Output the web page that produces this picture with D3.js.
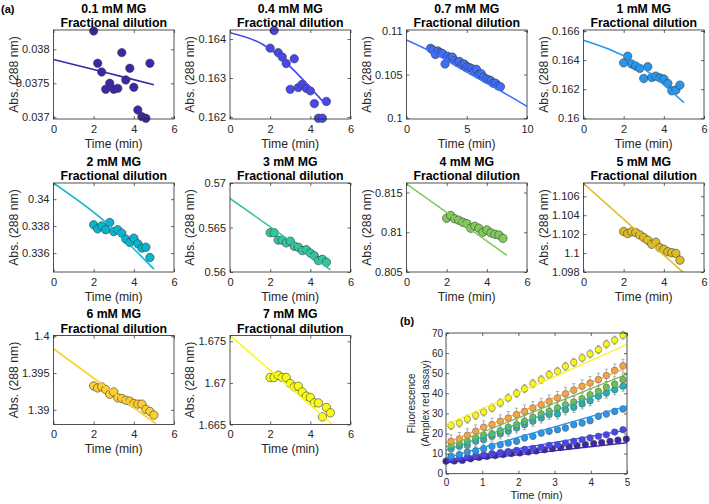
<!DOCTYPE html>
<html><head><meta charset="utf-8">
<script src="https://cdn.jsdelivr.net/npm/d3@7"></script>
<style>
html,body{margin:0;padding:0;background:#fff;}
svg{display:block;font-family:"Liberation Sans",Arial,Helvetica,sans-serif;}
</style></head><body>
<svg id="chart" width="709" height="504"></svg>
<script>
// ================= DATA =================
const concLabels = ["0.1 mM MG","0.4 mM MG","0.7 mM MG","1 mM MG","2 mM MG","3 mM MG","4 mM MG","5 mM MG","6 mM MG","7 mM MG"];
const subTitle = "Fractional dilution";
const panelColors = ["#3e26a8","#4747eb","#3e6fff","#2796eb","#08b5d0","#31c69f","#81cc59","#dcbd29","#fccf30","#f9fb15"];

const t15 = [2.0,2.2,2.4,2.6,2.8,3.0,3.2,3.4,3.6,3.8,4.0,4.2,4.4,4.6,4.8];
const t16 = [2.0,2.2,2.4,2.6,2.8,3.0,3.2,3.4,3.6,3.8,4.0,4.2,4.4,4.6,4.8,5.0];
const t30 = [2.0,2.2,2.4,2.6,2.8,3.0,3.2,3.4,3.6,3.8,4.0,4.2,4.4,4.6,4.8,5.0,5.2,5.4,5.6,5.8,6.0,6.2,6.4,6.6,6.8,7.0,7.2,7.4,7.6,7.8];

const abs01 = [0.03827,0.037794,0.037667,0.037412,0.0375,0.037412,0.037426,0.037951,0.037549,0.037721,0.037441,0.037108,0.03701,0.036985,0.037794];
const abs04 = [0.163765,0.164217,0.16365,0.163538,0.163373,0.16271,0.163493,0.162755,0.162841,0.162736,0.16267,0.162345,0.16197,0.16197,0.1624];
const abs07 = [0.1080,0.1078,0.1073,0.1077,0.1075,0.1074,0.1062,0.1071,0.1069,0.1070,0.1066,0.1064,0.1065,0.1061,0.1062,0.1059,0.1058,0.1057,0.1054,0.1056,0.1050,0.1051,0.1047,0.1045,0.1044,0.1043,0.1040,0.1040,0.1037,0.1036];
const abs1  = [0.16381,0.16427,0.16373,0.16359,0.16343,0.16274,0.16354,0.16281,0.1629,0.16278,0.16271,0.1624,0.16189,0.16194,0.16228];
const abs2  = [0.3381,0.3378,0.33802,0.33773,0.33827,0.3376,0.33773,0.33748,0.33704,0.33679,0.33711,0.33669,0.33637,0.33644,0.33567];
const abs3  = [0.56442,0.56442,0.56358,0.56358,0.56327,0.56347,0.56289,0.56278,0.5624,0.56251,0.56213,0.56182,0.56128,0.56143,0.56109];
const abs4  = [0.81177,0.81211,0.8117,0.81152,0.81127,0.8111,0.81051,0.81076,0.81051,0.81,0.8103,0.80992,0.80975,0.80966,0.80924];
const abs5  = [1.10228,1.10206,1.10225,1.10217,1.10193,1.10164,1.10136,1.10093,1.10114,1.10057,1.1004,1.10014,1.10003,1.09997,1.09925];
const abs6  = [1.39324,1.39297,1.39311,1.39275,1.39212,1.39243,1.39162,1.39154,1.39131,1.39118,1.39086,1.39077,1.39077,1.39005,1.38978,1.38928];
const abs7  = [1.67065,1.67065,1.67092,1.67065,1.67065,1.66992,1.66952,1.6696,1.66892,1.6684,1.66825,1.6676,1.6676,1.66592,1.66705,1.6664];

// model (fractional dilution) curves
const fitT01 = [0,2.5,5],         fitY01 = [0.03785,0.037665,0.03748];
const fitT04 = [0,1.6,3.2,4.8],   fitY04 = [0.16416,0.16387,0.16319,0.1623];
const fitT07 = [0,2.5,5,7.5,10],  fitY07 = [0.10896,0.1073,0.10527,0.10336,0.10134];
const fitT1  = [0,2.5,5],         fitY1  = [0.16537,0.1639,0.16107];
const fitT2  = [0,2.5,5],         fitY2  = [0.34119,0.33842,0.33481];
const fitT3  = [0,2.5,5],         fitY3  = [0.56827,0.56428,0.56025];
const fitT4  = [0,5],             fitY4  = [0.8161,0.8071];
const fitT5  = [0,5],             fitY5  = [1.10735,1.0979];
const fitT6  = [0,5.1],           fitY6  = [1.3983,1.3881];
const fitT7  = [0,5.11],          fitY7  = [1.67572,1.665];

const yLims = [[0.036975,0.038284],[0.16195,0.16423],[0.0999,0.1101],[0.15995,0.16607],[0.3346,0.3412],
               [0.56,0.57],[0.805,0.8162],[1.098,1.1074],[1.388,1.4001],[1.665,1.6757]];
const yTicksA = [[0.037,0.0375,0.038],[0.162,0.163,0.164],[0.1,0.105,0.11],[0.16,0.162,0.164,0.166],[0.336,0.338,0.34],
                 [0.56,0.565,0.57],[0.805,0.81,0.815],[1.098,1.1,1.102,1.104,1.106],[1.39,1.395,1.4],[1.665,1.67,1.675]];
const xLims = [6,6,10,6,6,6,6,6,6,6];
const xTicksA = [[0,2,4,6],[0,2,4,6],[0,5,10],[0,2,4,6],[0,2,4,6],[0,2,4,6],[0,2,4,6],[0,2,4,6],[0,2,4,6],[0,2,4,6]];

const pointT = [t15,t15,t30,t15,t15,t15,t15,t15,t16,t16];
const pointY = [abs01,abs04,abs07,abs1,abs2,abs3,abs4,abs5,abs6,abs7];
const fitTs = [fitT01,fitT04,fitT07,fitT1,fitT2,fitT3,fitT4,fitT5,fitT6,fitT7];
const fitYs = [fitY01,fitY04,fitY07,fitY1,fitY2,fitY3,fitY4,fitY5,fitY6,fitY7];

// panel (b): Amplex red fluorescence
const bTime = [0.14,0.37,0.59,0.82,1.04,1.27,1.50,1.72,1.95,2.17,2.40,2.63,2.85,3.08,3.30,3.53,3.76,3.98,4.21,4.43,4.66,4.89];
const bTimeNavy = [0.00,0.23,0.45,0.68,0.91,1.13,1.36,1.58,1.81,2.04,2.27,2.49,2.72,2.94,3.17,3.40,3.62,3.85,4.08,4.30,4.53,4.75,4.98];
const fluNavy   = [6.2,6.3,6.6,7.4,8.1,8.6,9.0,9.5,10.0,10.3,10.8,11.3,11.9,12.5,13.0,13.5,14.0,14.5,15.0,15.5,16.1,16.7,17.3];
const fluViolet = [7.0,7.5,8.2,8.8,9.3,10.0,10.5,11.0,11.6,12.1,12.6,13.1,14.1,14.4,15.3,16.1,16.9,17.8,18.6,19.4,20.7,21.9];
const fluBlue   = [8.7,9.5,10.8,11.4,12.4,13.6,14.4,15.3,16.1,17.8,18.6,20.2,21.1,21.9,22.7,24.4,25.2,26.4,28.6,29.7,31.0,32.2];
const fluTeal   = [12.4,13.6,14.1,16.1,16.9,18.6,19.8,21.1,22.7,24.4,26.1,27.7,29.4,29.7,31.8,33.0,34.7,36.3,38.5,40.1,41.8,43.5];
const fluGreen  = [13.6,14.8,16.1,17.8,19.1,19.8,21.4,23.1,24.4,26.1,28.1,29.7,31.0,32.7,34.3,35.7,37.3,39.3,41.0,43.0,44.6,46.8];
const fluOrange = [16.1,17.3,19.1,21.1,23.1,24.4,26.1,27.7,29.4,31.0,32.7,34.3,36.0,37.7,39.7,41.6,43.5,45.1,46.8,48.8,51.4,53.7];
const fluYellow = [23.9,25.2,27.2,29.0,30.7,32.7,35.2,37.7,40.0,42.3,44.8,46.8,49.3,50.9,53.4,55.4,57.6,59.6,61.7,64.5,66.4,68.9];
const fluErr    = [0.8,1.0,1.5,2.5,2.8,3.2,2.0];
const bFitT = [0,5];
const bFitNavy = [5.5,15.4], bFitViolet = [6.3,21.7], bFitBlue = [7.8,33.6], bFitTeal = [11.6,44.6],
      bFitGreen = [13.3,49.6], bFitOrange = [15.2,52.8], bFitYellow = [24.4,64.2];
const bColors = ["#3e26a8","#4747eb","#2796eb","#1bb3b8","#72c052","#f4a347","#f7f520"];
const bXTicks = [0,1,2,3,4,5];
const bYTicks = [0,10,20,30,40,50,60,70];

// ================= DRAW =================
const svg = d3.select("#chart");
const TXT = "#262626";
const colX = [53.5, 230, 406.5, 583.5], W = 120.5;
const rowY = [30, 183, 335.5], H = 89;

function styleAxis(g, fs){
  g.select(".domain").remove();
  g.selectAll(".tick line").attr("stroke", TXT).attr("stroke-width", 0.7);
  g.selectAll(".tick text").attr("fill", TXT).attr("font-size", fs).attr("font-family", "Liberation Sans, Arial, sans-serif");
}
const fmt = d => String(d);

pointY.forEach((vals, i) => {
  const col = i % 4, row = Math.floor(i / 4);
  const g = svg.append("g").attr("transform", `translate(${colX[col]},${rowY[row]})`);
  const x = d3.scaleLinear().domain([0, xLims[i]]).range([0, W]);
  const y = d3.scaleLinear().domain(yLims[i]).range([H, 0]);
  const cid = "clipA" + i;
  g.append("clipPath").attr("id", cid).append("rect").attr("width", W).attr("height", H);

  g.append("rect").attr("width", W).attr("height", H).attr("fill", "#fff");

  // points
  g.append("g").selectAll("circle").data(vals.map((v, k) => [pointT[i][k], v])).join("circle")
    .attr("cx", d => x(d[0])).attr("cy", d => y(d[1])).attr("r", 4.2)
    .attr("fill", panelColors[i]).attr("stroke", "#3a3a3a").attr("stroke-width", 0.6);

  // model line
  const line = d3.line().x(d => x(d[0])).y(d => y(d[1])).curve(d3.curveNatural);
  g.append("path").datum(fitTs[i].map((t, k) => [t, fitYs[i][k]]))
    .attr("d", line).attr("fill", "none").attr("stroke", panelColors[i]).attr("stroke-width", 1.6)
    .attr("clip-path", `url(#${cid})`);

  // axes
  g.append("g").attr("transform", `translate(0,${H})`)
    .call(d3.axisBottom(x).tickValues(xTicksA[i]).tickSize(-3).tickSizeOuter(0).tickPadding(6).tickFormat(fmt))
    .call(a => styleAxis(a, 11));
  g.append("g").call(d3.axisTop(x).tickValues(xTicksA[i]).tickSize(-3).tickSizeOuter(0).tickFormat(""))
    .call(a => styleAxis(a, 11));
  g.append("g").call(d3.axisLeft(y).tickValues(yTicksA[i]).tickSize(-3).tickSizeOuter(0).tickPadding(4).tickFormat(fmt))
    .call(a => styleAxis(a, 11));
  g.append("g").attr("transform", `translate(${W},0)`)
    .call(d3.axisRight(y).tickValues(yTicksA[i]).tickSize(-3).tickSizeOuter(0).tickFormat(""))
    .call(a => styleAxis(a, 11));
  g.append("rect").attr("width", W).attr("height", H).attr("fill", "none").attr("stroke", TXT).attr("stroke-width", 0.8);

  // labels
  g.append("text").attr("x", W / 2).attr("y", -17.5).attr("text-anchor", "middle")
    .attr("font-size", 12.3).attr("font-weight", "bold").attr("fill", "#000").text(concLabels[i]);
  g.append("text").attr("x", W / 2).attr("y", -3).attr("text-anchor", "middle")
    .attr("font-size", 12.3).attr("font-weight", "bold").attr("fill", "#000").text(subTitle);
  g.append("text").attr("x", W / 2).attr("y", H + 28.5).attr("text-anchor", "middle")
    .attr("font-size", 12.2).attr("fill", TXT).text("Time (min)");
  g.append("text").attr("transform", `translate(-40,${H / 2}) rotate(-90)`).attr("dy", "0.35em")
    .attr("text-anchor", "middle").attr("font-size", 12.2).attr("fill", TXT).text("Abs. (288 nm)");
});

// panel labels
svg.append("text").attr("x", 1).attr("y", 12.5).attr("font-size", 11).attr("font-weight", "bold").attr("fill", "#000").text("(a)");
svg.append("text").attr("x", 400).attr("y", 325).attr("font-size", 11).attr("font-weight", "bold").attr("fill", "#000").text("(b)");

// ---- panel (b) ----
{
  const bx0 = 446, by0 = 333, bW = 181, bH = 140.7;
  const g = svg.append("g").attr("transform", `translate(${bx0},${by0})`);
  const x = d3.scaleLinear().domain([0, 5]).range([0, bW]);
  const y = d3.scaleLinear().domain([0, 70]).range([bH, 0]);
  g.append("clipPath").attr("id", "clipB").append("rect").attr("width", bW).attr("height", bH);
  const series = [
    [bTimeNavy, fluNavy, bFitNavy], [bTime, fluViolet, bFitViolet], [bTime, fluBlue, bFitBlue],
    [bTime, fluTeal, bFitTeal], [bTime, fluGreen, bFitGreen], [bTime, fluOrange, bFitOrange], [bTime, fluYellow, bFitYellow]
  ];
  series.forEach((s, si) => {
    const pts = s[1].map((v, k) => [s[0][k], v]);
    const e = fluErr[si];
    const eg = g.append("g").attr("stroke", "#8f8f8f").attr("stroke-width", 0.7);
    pts.forEach(p => {
      const cx = x(p[0]);
      eg.append("line").attr("x1", cx).attr("x2", cx).attr("y1", y(p[1] - e)).attr("y2", y(p[1] + e));
      eg.append("line").attr("x1", cx - 1.6).attr("x2", cx + 1.6).attr("y1", y(p[1] - e)).attr("y2", y(p[1] - e));
      eg.append("line").attr("x1", cx - 1.6).attr("x2", cx + 1.6).attr("y1", y(p[1] + e)).attr("y2", y(p[1] + e));
    });
    g.append("g").selectAll("circle").data(pts).join("circle")
      .attr("cx", d => x(d[0])).attr("cy", d => y(d[1])).attr("r", 3.3)
      .attr("fill", bColors[si]).attr("stroke", "#555").attr("stroke-width", 0.5);
  });
  series.forEach((s, si) => {
    g.append("path").datum(bFitT.map((t, k) => [t, s[2][k]]))
      .attr("d", d3.line().x(d => x(d[0])).y(d => y(d[1])))
      .attr("fill", "none").attr("stroke", bColors[si]).attr("stroke-width", 1.3).attr("clip-path", "url(#clipB)");
  });
  g.append("g").attr("transform", `translate(0,${bH})`)
    .call(d3.axisBottom(x).tickValues(bXTicks).tickSize(-3).tickSizeOuter(0).tickPadding(5).tickFormat(fmt))
    .call(a => styleAxis(a, 10));
  g.append("g").call(d3.axisTop(x).tickValues(bXTicks).tickSize(-3).tickSizeOuter(0).tickFormat(""))
    .call(a => styleAxis(a, 10));
  g.append("g").call(d3.axisLeft(y).tickValues(bYTicks).tickSize(-3).tickSizeOuter(0).tickPadding(3).tickFormat(fmt))
    .call(a => styleAxis(a, 10));
  g.append("g").attr("transform", `translate(${bW},0)`)
    .call(d3.axisRight(y).tickValues(bYTicks).tickSize(-3).tickSizeOuter(0).tickFormat(""))
    .call(a => styleAxis(a, 10));
  g.append("rect").attr("width", bW).attr("height", bH).attr("fill", "none").attr("stroke", TXT).attr("stroke-width", 0.8);
  g.append("text").attr("x", bW / 2).attr("y", bH + 25.5).attr("text-anchor", "middle")
    .attr("font-size", 11).attr("fill", TXT).text("Time (min)");
  g.append("text").attr("transform", `translate(-34.3,${bH / 2}) rotate(-90)`).attr("dy", "0.35em")
    .attr("text-anchor", "middle").attr("font-size", 10).attr("fill", TXT).text("Fluorescence");
  g.append("text").attr("transform", `translate(-21,${bH / 2}) rotate(-90)`).attr("dy", "0.35em")
    .attr("text-anchor", "middle").attr("font-size", 10).attr("fill", TXT).text("(Amplex red assay)");
}
</script>
</body></html>
